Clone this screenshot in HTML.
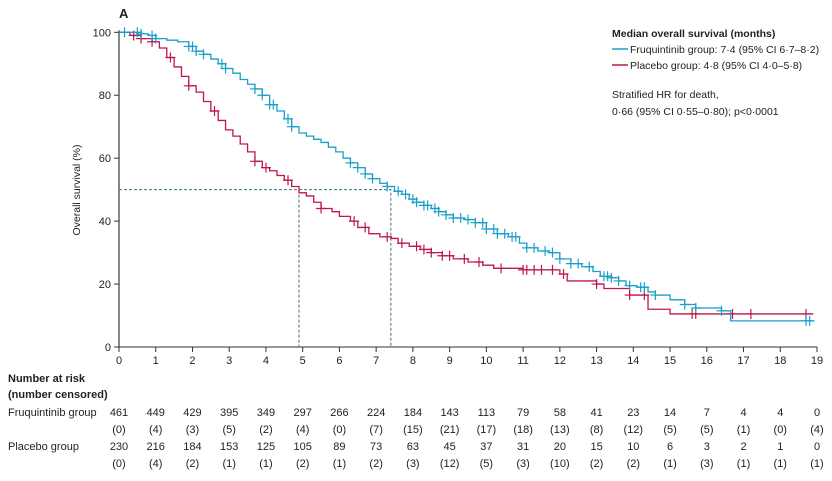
<!DOCTYPE html>
<html><head><meta charset="utf-8"><style>
body{margin:0;background:#fff;font-family:"Liberation Sans",sans-serif;}
svg text{font-family:"Liberation Sans",sans-serif;fill:#222;}
</style></head><body>
<svg id="chart" width="832" height="476" viewBox="0 0 832 476">
<text x="119" y="18" font-size="13" font-weight="bold">A</text>
<g id="plot"></g>
<g id="legend">
<text x="612" y="37" font-size="10.5" font-weight="bold">Median overall survival (months)</text>
<line x1="612" y1="49" x2="628" y2="49" stroke="#1a9fc9" stroke-width="1.5"/>
<text x="630" y="53" font-size="10.5">Fruquintinib group: 7·4 (95% CI 6·7–8·2)</text>
<line x1="612" y1="65" x2="628" y2="65" stroke="#c0174a" stroke-width="1.5"/>
<text x="630" y="69" font-size="10.5">Placebo group: 4·8 (95% CI 4·0–5·8)</text>
<text x="612" y="98" font-size="10.5">Stratified HR for death,</text>
<text x="612" y="115" font-size="10.5">0·66 (95% CI 0·55–0·80); p&lt;0·0001</text>
</g>
<text transform="translate(80,190) rotate(-90)" text-anchor="middle" font-size="10.5">Overall survival (%)</text>
<text x="8" y="382" font-size="11" font-weight="bold">Number at risk</text>
<text x="8" y="398" font-size="11" font-weight="bold">(number censored)</text>
<text x="8" y="416" font-size="11">Fruquintinib group</text>
<text x="8" y="450" font-size="11">Placebo group</text>
<g id="risk"></g>
</svg>
<script>
const xTicks=[0,1,2,3,4,5,6,7,8,9,10,11,12,13,14,15,16,17,18,19];
const yTicks=[0,20,40,60,80,100];
const fruqT=[0,0.6,0.8,1,1.3,1.6,1.9,2.1,2.3,2.5,2.7,2.9,3.1,3.3,3.5,3.7,3.9,4.1,4.3,4.5,4.7,4.9,5.1,5.3,5.5,5.7,5.9,6.1,6.3,6.5,6.7,6.9,7.1,7.3,7.5,7.7,7.9,8.1,8.3,8.5,8.7,8.9,9.1,9.4,9.7,10,10.3,10.6,10.9,11.1,11.4,11.7,12,12.3,12.6,12.9,13.1,13.4,13.6,13.8,14.1,14.4,14.6,15,15.4,15.7,16.4,16.65,18.9];
const fruqS=[100,99.5,99,98,97.5,97,95.5,94,93,91.5,90,88.5,87,85,83.5,82,80,77,75,72.5,70,68,67,66,65,63.5,62,60,58.5,57,55,53.5,52,51,49.5,48.5,47,46,45,44,43,42,41,40.5,39.5,37.5,36,35,33,31.5,30.5,30,28,26.5,25.5,24,22.5,22,21,19.5,19,17.5,16.5,15,13.5,12.4,11.5,8.3,8.3];
const placT=[0,0.3,0.6,0.9,1.1,1.3,1.5,1.7,1.9,2.1,2.3,2.5,2.7,2.9,3.1,3.3,3.5,3.7,3.9,4.1,4.3,4.5,4.7,4.9,5.1,5.3,5.5,5.8,6.0,6.3,6.5,6.8,7.1,7.4,7.6,7.9,8.2,8.5,8.8,9.1,9.5,9.9,10.2,11,12,12.2,13,13.2,13.9,14.4,15,18.9];
const placS=[100,99,98,97,95,92,89,86,83,81,78,75,72,69,67,64.5,62,59,57,56,54.5,53,51,49,48,46,44,43,41.5,40,38,36,35,34.5,33,32,31,30,29,28,27,26,25,24.5,23.2,21,20,18.6,16.5,12,10.5,10.5];
const fruqCens=[0.15,0.5,0.6,0.9,1.0,1.9,2.0,2.1,2.3,2.8,2.9,3.7,3.9,4.1,4.2,4.6,4.7,6.3,6.5,6.7,6.9,7.3,7.6,7.8,8.0,8.1,8.3,8.4,8.6,8.7,8.9,9.1,9.3,9.5,9.7,9.9,10.0,10.2,10.3,10.5,10.7,10.8,11.1,11.3,11.6,11.8,12.0,12.3,12.5,12.8,13.2,13.3,13.4,13.6,13.9,14.2,14.3,14.6,15.4,15.7,16.4,18.7,18.8];
const placCens=[0.4,0.6,0.9,1.4,1.9,2.6,3.7,4.0,4.6,5.5,6.4,6.7,7.3,7.7,8.1,8.3,8.5,8.8,9.0,9.4,9.8,10.4,11.0,11.1,11.3,11.5,11.8,12.1,13.0,13.9,14.3,15.6,15.7,16.7,17.2,18.7];
const fruqRisk=[461,449,429,395,349,297,266,224,184,143,113,79,58,41,23,14,7,4,4,0];
const fruqCen=[0,4,3,5,2,4,0,7,15,21,17,18,13,8,12,5,5,1,0,4];
const placRisk=[230,216,184,153,125,105,89,73,63,45,37,31,20,15,10,6,3,2,1,0];
const placCen=[0,4,2,1,1,2,1,2,3,12,5,3,10,2,2,1,3,1,1,1];
const medF=7.4, medP=4.9;

const X0=119,X1=817,Y0=347,Y1=32.3;
const xs=v=>X0+(X1-X0)*v/19;
const ys=v=>Y0-(Y0-Y1)*v/100;
const NS='http://www.w3.org/2000/svg';
const plot=document.getElementById('plot');
function mk(tag,attrs,parent){const e=document.createElementNS(NS,tag);for(const k in attrs)e.setAttribute(k,attrs[k]);(parent||plot).appendChild(e);return e;}
let ax=mk('line',{x1:X0,y1:Y1-2,x2:X0,y2:Y0,stroke:'#888','stroke-width':2});


let bx=mk('line',{x1:X0,y1:Y0,x2:X1,y2:Y0,stroke:'#333','stroke-width':1});


xTicks.forEach(t=>{mk('line',{x1:xs(t),y1:Y0,x2:xs(t),y2:Y0+5,stroke:'#333'});
 const tx=mk('text',{x:xs(t),y:Y0+17,'text-anchor':'middle','font-size':11});tx.textContent=t;
 
 });
yTicks.forEach(t=>{mk('line',{x1:X0-5,y1:ys(t),x2:X0,y2:ys(t),stroke:'#333'});
 const tx=mk('text',{x:X0-8,y:ys(t)+4,'text-anchor':'end','font-size':11});tx.textContent=t;
 
 });
const dash={stroke:'#3a6f8a','stroke-dasharray':'3,2','stroke-width':1,fill:'none'};
let g1=mk('path',Object.assign({d:`M${X0},${ys(50)}H${xs(medF)}V${Y0}M${xs(medP)},${ys(50)}V${Y0}`},dash));


function stepAt(T,S,t){let s=S[0];for(let i=0;i<T.length;i++){if(T[i]<=t)s=S[i];}return s;}
function curve(T,S,C,color,name){
 let d=`M${xs(T[0])},${ys(S[0])}`;
 for(let i=1;i<T.length;i++){d+=`H${xs(T[i])}V${ys(S[i])}`;}
 const p=mk('path',{d:d,stroke:color,'stroke-width':1.3,fill:'none'});
 
 
 C.forEach(c=>{const y=ys(stepAt(T,S,c)),x=xs(c);
  const m=mk('path',{d:`M${x},${y-5}V${y+5}M${x-5},${y}H${x+5}`,stroke:color,'stroke-width':1.2});
  
  });
}
curve(placT,placS,placCens,'#c0174a','placebo');
curve(fruqT,fruqS,fruqCens,'#1a9fc9','fruquintinib');
const risk=document.getElementById('risk');
function row(vals,y,paren,name){vals.forEach((v,i)=>{const t=mk('text',{x:xs(i),y:y,'text-anchor':'middle','font-size':11},risk);
 t.textContent=paren?'('+v+')':v;
 
 });}
row(fruqRisk,416,false,'risk-fruquintinib');
row(fruqCen,433,true,'censored-fruquintinib');
row(placRisk,450,false,'risk-placebo');
row(placCen,467,true,'censored-placebo');
</script>
</body></html>
